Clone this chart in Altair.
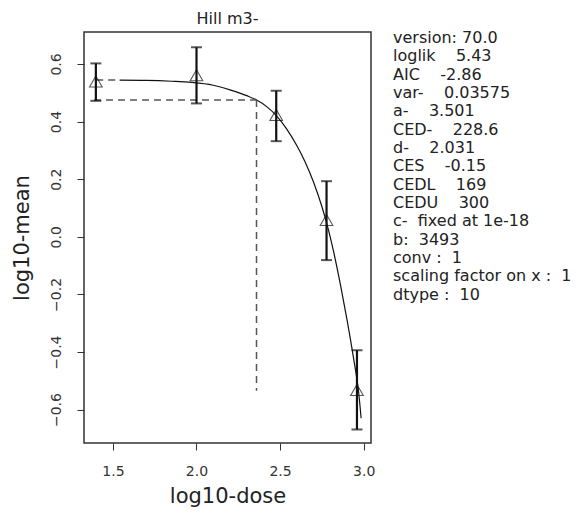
import altair as alt
import pandas as pd

# observed group means (log10 scale) and their confidence limits
log_dose = [1.398, 2.0, 2.477, 2.778, 2.96]
log_mean = [0.539, 0.561, 0.423, 0.058, -0.532]
ci_low = [0.472, 0.463, 0.332, -0.081, -0.669]
ci_high = [0.602, 0.658, 0.507, 0.193, -0.394]

# fitted Hill curve
curve_x = [1.54, 1.70, 1.85, 1.97, 2.10, 2.20, 2.30, 2.36, 2.42, 2.48, 2.54,
           2.60, 2.65, 2.70, 2.75, 2.78, 2.82, 2.86, 2.90, 2.94, 2.97, 2.985]
curve_y = [0.544, 0.543, 0.540, 0.536, 0.526, 0.510, 0.490, 0.475, 0.452,
           0.419, 0.374, 0.317, 0.260, 0.190, 0.105, 0.045, -0.051, -0.163,
           -0.287, -0.423, -0.540, -0.630]

# dashed guide segments (CED / CES)
seg_x = [1.40, 1.387, 2.359]
seg_x2 = [1.54, 2.359, 2.359]
seg_y = [0.544, 0.475, 0.475]
seg_y2 = [0.544, 0.475, -0.535]

x_ticks = [1.5, 2.0, 2.5, 3.0]
y_ticks = [-0.6, -0.4, -0.2, 0.0, 0.2, 0.4, 0.6]

NB = "\u00a0"
info_lines = [
    "version: 70.0",
    "loglik" + NB * 4 + "5.43",
    "AIC" + NB * 4 + "-2.86",
    "var-" + NB * 4 + "0.03575",
    "a-" + NB * 4 + "3.501",
    "CED-" + NB * 4 + "228.6",
    "d-" + NB * 4 + "2.031",
    "CES" + NB * 4 + "-0.15",
    "CEDL" + NB * 4 + "169",
    "CEDU" + NB * 4 + "300",
    "c-" + NB * 2 + "fixed at 1e-18",
    "b:" + NB * 2 + "3493",
    "conv :" + NB * 2 + "1",
    "scaling factor on x :" + NB * 2 + "1",
    "dtype :" + NB * 2 + "10",
]

FONT = "DejaVu Sans"
W, H = 287, 411

obs = pd.DataFrame({"x": log_dose, "y": log_mean, "lo": ci_low, "hi": ci_high})
curve = pd.DataFrame({"x": curve_x, "y": curve_y, "o": list(range(len(curve_x)))})
segs = pd.DataFrame({"x": seg_x, "x2": seg_x2, "y": seg_y, "y2": seg_y2})
info = pd.DataFrame({"t": ["\n".join(info_lines)]})

xscale = alt.Scale(domain=[1.327, 3.044], nice=False, zero=False)
yscale = alt.Scale(domain=[-0.716, 0.711], nice=False, zero=False)

xaxis = alt.Axis(values=x_ticks, format=".1f", grid=False, domain=False,
                 tickSize=7, tickColor="#333", labelFont=FONT, labelFontSize=14,
                 labelColor="#333", labelPadding=14, title="log10-dose",
                 titleFont=FONT, titleFontSize=21, titleFontWeight="normal",
                 titleColor="#222", titleX=W / 2, titleY=59,
                 titleBaseline="alphabetic", titleAlign="center")
yaxis = alt.Axis(values=y_ticks, format=".1f", grid=False, domain=False,
                 tickSize=7, tickColor="#333", labelFont=FONT, labelFontSize=14,
                 labelColor="#333", labelAngle=-90, labelAlign="center",
                 labelBaseline="bottom", labelPadding=14, title="log10-mean",
                 titleFont=FONT, titleFontSize=21, titleFontWeight="normal",
                 titleColor="#222", titleAngle=-90, titleX=-62, titleY=H / 2,
                 titleBaseline="middle", titleAlign="center")

base_x = alt.X("x:Q", scale=xscale, axis=xaxis)
base_y = alt.Y("y:Q", scale=yscale, axis=yaxis)

line = alt.Chart(curve).mark_line(color="#111", strokeWidth=1.2,
                                  interpolate="monotone").encode(
    x=base_x, y=base_y, order="o:Q")

dashed = alt.Chart(segs).mark_rule(color="#555", strokeWidth=1.5,
                                   strokeDash=[7, 5]).encode(
    x="x:Q", x2="x2:Q", y="y:Q", y2="y2:Q")

bars = alt.Chart(obs).mark_rule(color="#111", strokeWidth=2.2).encode(
    x="x:Q", y="lo:Q", y2="hi:Q")

cap_lo = alt.Chart(obs).mark_tick(orient="horizontal", color="#111",
                                  size=11, thickness=2).encode(x="x:Q", y="lo:Q")
cap_hi = alt.Chart(obs).mark_tick(orient="horizontal", color="#111",
                                  size=11, thickness=2).encode(x="x:Q", y="hi:Q")

pts = alt.Chart(obs).mark_point(shape="triangle-up", size=160, filled=False,
                                color="#111", strokeWidth=1.1).encode(
    x="x:Q", y="y:Q")

text = alt.Chart(info).mark_text(align="left", baseline="top", lineBreak="\n",
                                 lineHeight=18.33, font=FONT, fontSize=16,
                                 color="#222").encode(
    x=alt.value(W + 22), y=alt.value(-2), text="t:N")

chart = alt.layer(line, dashed, bars, cap_lo, cap_hi, pts, text).properties(
    width=W, height=H,
    title=alt.TitleParams("Hill m3-", font=FONT, fontSize=16,
                          fontWeight="normal", color="#222", anchor="middle",
                          offset=3),
    autosize=alt.AutoSizeParams(type="none"),
    padding={"left": 76, "top": 24, "right": 201, "bottom": 65},
).configure_view(stroke="#333", strokeWidth=1.5)

chart.save("out.html", embed_options={"renderer": "svg", "actions": False})
